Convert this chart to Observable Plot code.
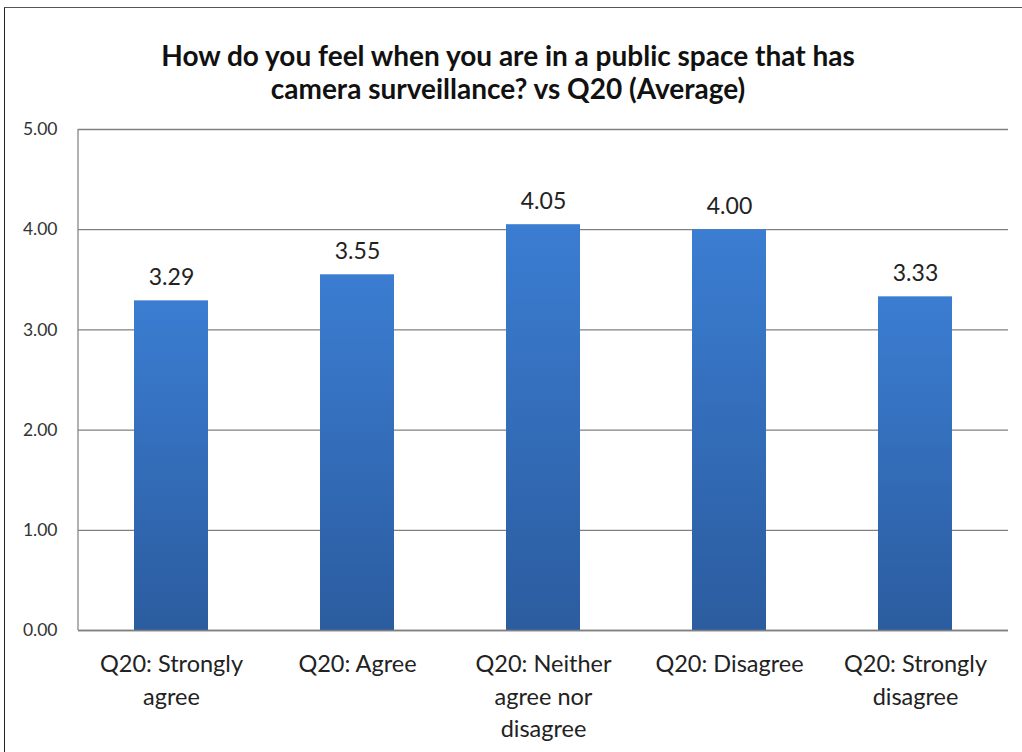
<!DOCTYPE html>
<html>
<head>
<meta charset="utf-8">
<script src="https://cdn.jsdelivr.net/npm/d3@7"></script>
<script src="https://cdn.jsdelivr.net/npm/@observablehq/plot@0.6"></script>
<style>
  html, body { margin: 0; padding: 0; background: #fff; }
  #wrap { position: relative; width: 1022px; height: 752px; overflow: hidden; background: #fff; }
  #frame { position: absolute; left: 4px; top: 7px; width: 1030px; height: 760px; border-left: 1.5px solid #222; border-top: 1.5px solid #555; }
  #title { position: absolute; left: 0; top: 39px; width: 1016px; text-align: center;
           font-family: Lato, "Open Sans", sans-serif; font-weight: bold; font-size: 28px; line-height: 33px; color: #111; }
  #chart { position: absolute; left: 0; top: 0; }
</style>
</head>
<body>
<div id="wrap">
  <div id="frame"></div>
  <div id="title">How do you feel when you are in a public space that has<br>camera surveillance? vs Q20 (Average)</div>
  <div id="chart"></div>
</div>
<script>
const categories = ["Q20: Strongly agree", "Q20: Agree", "Q20: Neither agree nor disagree", "Q20: Disagree", "Q20: Strongly disagree"];
const tickLabels = ["Q20: Strongly\nagree", "Q20: Agree", "Q20: Neither\nagree nor\ndisagree", "Q20: Disagree", "Q20: Strongly\ndisagree"];
const values = [3.29, 3.55, 4.05, 4.00, 3.33];
const yTicks = [0, 1, 2, 3, 4, 5];

const data = categories.map((c, i) => ({category: c, value: values[i]}));
const labelOf = new Map(categories.map((c, i) => [c, tickLabels[i]]));

const plot = Plot.plot({
  width: 1022,
  height: 752,
  marginLeft: 78,
  marginRight: 14,
  marginTop: 129,
  marginBottom: 122,
  style: {fontFamily: "Lato, 'Open Sans', sans-serif", background: "transparent", overflow: "visible"},
  x: {domain: categories, paddingInner: 0.6, paddingOuter: 0.3, label: null},
  y: {domain: [0, 5], label: null},
  marks: [
    () => {
      const svgNS = "http://www.w3.org/2000/svg";
      const defs = document.createElementNS(svgNS, "defs");
      defs.innerHTML = `<linearGradient id="barGrad" x1="0" y1="0" x2="0" y2="1">
        <stop offset="0%" stop-color="#3b7dd2"/>
        <stop offset="100%" stop-color="#2b5c9f"/>
      </linearGradient>`;
      return defs;
    },
    Plot.gridY(yTicks, {stroke: "#808080", strokeOpacity: 1, strokeWidth: 1.3}),
    Plot.axisY(yTicks, {tickSize: 0, tickPadding: 21, fontSize: 17.5, fill: "#333", tickFormat: d => d.toFixed(2), label: null}),
    Plot.axisX({tickSize: 0, tickPadding: 19, fontSize: 23.5, lineHeight: 1.37, fill: "#222",
                tickFormat: d => labelOf.get(d), label: null}),
    Plot.barY(data, {x: "category", y: "value", fill: "url(#barGrad)"}),
    Plot.ruleY([0], {stroke: "#808080", strokeWidth: 1.3}),
    Plot.text(data, {x: "category", y: "value", text: d => d.value.toFixed(2), dy: -16, lineAnchor: "bottom",
                     fontSize: 23, fill: "#222"})
  ]
});

document.getElementById("chart").appendChild(plot);

// left vertical axis line at plot left edge
const svg = plot.tagName.toLowerCase() === "svg" ? plot : plot.querySelector("svg");
const ln = document.createElementNS("http://www.w3.org/2000/svg", "line");
ln.setAttribute("x1", 78); ln.setAttribute("x2", 78); ln.setAttribute("y1", 129); ln.setAttribute("y2", 630);
ln.setAttribute("stroke", "#888"); ln.setAttribute("stroke-width", "1.3");
svg.appendChild(ln);
</script>
</body>
</html>
